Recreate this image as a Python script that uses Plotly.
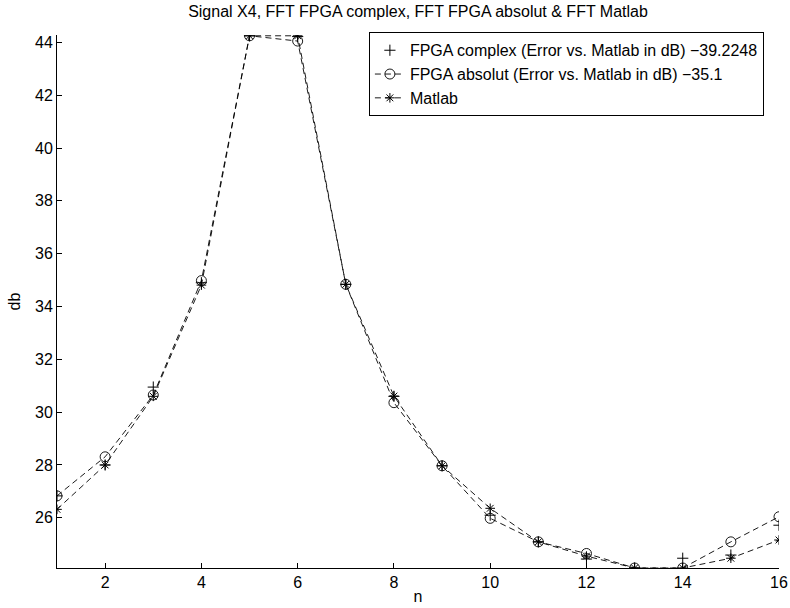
import plotly.graph_objects as go

n = list(range(1, 17))
fpga_complex = [26.83, 28.0, 30.95, 34.9, 44.25, 44.22, 34.84, 30.6, 27.97, 26.1, 25.09, 24.44, 24.1, 24.47, 24.59, 25.72]
fpga_absolut = [26.83, 28.31, 30.65, 34.98, 44.25, 44.05, 34.84, 30.36, 27.97, 25.98, 25.09, 24.65, 24.1, 24.1, 25.09, 26.04]
matlab = [26.32, 28.0, 30.6, 34.81, 44.25, 44.25, 34.84, 30.61, 27.97, 26.36, 25.09, 24.55, 24.1, 24.1, 24.47, 25.16]

title = "Signal X4, FFT FPGA complex, FFT FPGA absolut & FFT Matlab"
names = ["FPGA complex (Error vs. Matlab in dB) \u221239.2248",
         "FPGA absolut (Error vs. Matlab in dB) \u221235.1",
         "Matlab"]

FONT = "Liberation Sans, Arial, Helvetica, sans-serif"
fig = go.Figure()
fig.add_trace(go.Scatter(x=n, y=fpga_complex, mode="markers", name=names[0],
                         marker=dict(symbol="cross-thin-open", size=8, color="black",
                                     line=dict(color="black", width=1))))
fig.add_trace(go.Scatter(x=n, y=fpga_absolut, mode="lines+markers", name=names[1],
                         line=dict(color="black", width=0.9, dash="6px,4px"),
                         marker=dict(symbol="circle-open", size=10, color="black",
                                     line=dict(color="black", width=0.9))))
fig.add_trace(go.Scatter(x=n, y=matlab, mode="lines+markers", name=names[2],
                         line=dict(color="black", width=0.9, dash="6px,4px"),
                         marker=dict(symbol="asterisk-open", size=8, color="black",
                                     line=dict(color="black", width=1))))

fig.update_layout(
    width=790, height=608,
    margin=dict(l=57, r=11, t=35, b=40),
    paper_bgcolor="white", plot_bgcolor="white",
    font=dict(family=FONT, size=16, color="black"),
    title=dict(text=title, x=0.5, xref="paper", xanchor="center",
               y=0.981, yref="container", yanchor="middle",
               font=dict(family=FONT, size=16, color="black")),
    showlegend=True,
    legend=dict(x=0.432, y=1.005, xanchor="left", yanchor="top",
                bgcolor="white", bordercolor="black", borderwidth=1,
                font=dict(family=FONT, size=16, color="black"),
                itemwidth=30, tracegroupgap=0),
    xaxis=dict(range=[1, 16], tickvals=list(range(2, 17, 2)), ticks="inside",
               ticklen=5, tickcolor="black", showline=True, linecolor="black",
               linewidth=1, showgrid=False, zeroline=False, mirror=False,
               automargin=False,
               tickfont=dict(family=FONT, size=16),
               title=dict(text="n", standoff=0, font=dict(family=FONT, size=16))),
    yaxis=dict(range=[24.1, 44.28], tickvals=list(range(26, 45, 2)), ticks="inside",
               ticklen=5, tickcolor="black", showline=True, linecolor="black",
               linewidth=1, showgrid=False, zeroline=False, mirror=False,
               automargin=False,
               tickfont=dict(family=FONT, size=16),
               title=dict(text="db", standoff=10, font=dict(family=FONT, size=16))),
)

fig.write_html("out.html")
